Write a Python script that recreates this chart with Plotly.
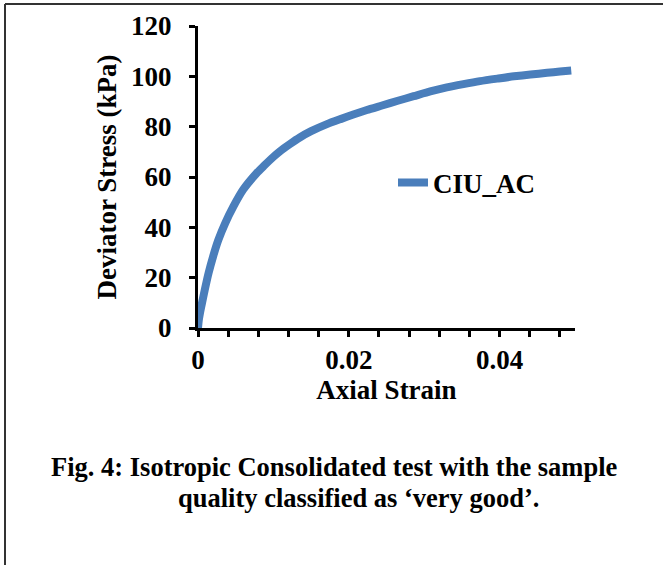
import plotly.graph_objects as go

# Data
strain = [0.0, 0.0001, 0.0003, 0.0005, 0.0009, 0.0014, 0.0020, 0.0027, 0.0036, 0.0047,
          0.0060, 0.0078, 0.0087, 0.0100, 0.0109, 0.0122, 0.0135, 0.0150, 0.0171,
          0.0189, 0.0206, 0.0224, 0.0244, 0.0265, 0.0286, 0.0308, 0.0330, 0.0352,
          0.0374, 0.0397, 0.0419, 0.0441, 0.0463, 0.0480, 0.0495]
stress = [0.0, 3.0, 6.5, 9.5, 15.2, 21.8, 28.4, 35.0, 41.6, 48.3,
          55.0, 61.6, 64.3, 68.0, 70.3, 73.1, 75.7, 78.2, 81.0,
          83.0, 84.8, 86.6, 88.4, 90.3, 92.1, 94.0, 95.6, 96.9,
          98.1, 99.1, 100.0, 100.7, 101.4, 101.9, 102.3]
series_name = "CIU_AC"
x_title = "Axial Strain"
y_title = "Deviator Stress (kPa)"
caption_1 = "Fig. 4: Isotropic Consolidated test with the sample"
caption_2 = "quality classified as \u2018very good\u2019."

W, H = 663, 565
L, R, T, B = 198, 88, 26, 237
pw, ph = W - L - R, H - T - B

def px(xp):
    return (xp - L) / pw

def py(yp):
    return (H - B - yp) / ph

FONT = dict(family="Liberation Serif", size=27, color="black", weight="bold")
CAP_FONT = dict(family="Liberation Serif", size=26.5, color="black", weight="bold")
BLUE = "#4A7EBB"

fig = go.Figure()
fig.add_trace(go.Scatter(x=strain, y=stress, mode="lines", name=series_name,
                         line=dict(color=BLUE, width=8, shape="spline", smoothing=0.6)))

fig.update_layout(
    width=W, height=H,
    margin=dict(l=L, r=R, t=T, b=B, autoexpand=False),
    paper_bgcolor="white", plot_bgcolor="white",
    font=FONT,
    showlegend=True,
    legend=dict(x=px(393), y=py(183), xanchor="left", yanchor="middle",
                bgcolor="rgba(0,0,0,0)", font=FONT),
    xaxis=dict(range=[0, 0.05], tickvals=[0, 0.02, 0.04], ticktext=["0", "0.02", "0.04"],
               showgrid=False, zeroline=False, showline=True, linecolor="black", linewidth=3,
               ticks="outside", ticklen=6, tickwidth=3, tickcolor="black",
               minor=dict(tickvals=[i * 0.004 for i in range(13)], ticks="outside",
                          ticklen=6, tickwidth=3, tickcolor="black", showgrid=False),
               ticklabelstandoff=0,
               title=dict(text=x_title, font=FONT, standoff=2)),
    yaxis=dict(range=[0, 120], dtick=20, showgrid=False, zeroline=False, showline=True,
               linecolor="black", linewidth=3, ticks="outside", ticklen=6, tickwidth=3,
               tickcolor="black", ticklabelstandoff=12,
               title=dict(text=y_title, font=FONT, standoff=7)),
    shapes=[
        dict(type="line", xref="paper", yref="paper", x0=px(5), x1=px(W), y0=py(4), y1=py(4),
             line=dict(color="#333333", width=2)),
        dict(type="line", xref="paper", yref="paper", x0=px(5), x1=px(5), y0=py(4), y1=py(H),
             line=dict(color="#333333", width=2)),
    ],
    annotations=[
        dict(text=caption_1, xref="paper", yref="paper", x=px(49), y=py(467),
             xanchor="left", yanchor="middle", showarrow=False, font=CAP_FONT),
        dict(text=caption_2, xref="paper", yref="paper", x=px(176), y=py(498),
             xanchor="left", yanchor="middle", showarrow=False, font=CAP_FONT),
    ],
)

fig.write_html("out.html", config={"displayModeBar": False},
               post_script="document.body.style.margin='0';")
